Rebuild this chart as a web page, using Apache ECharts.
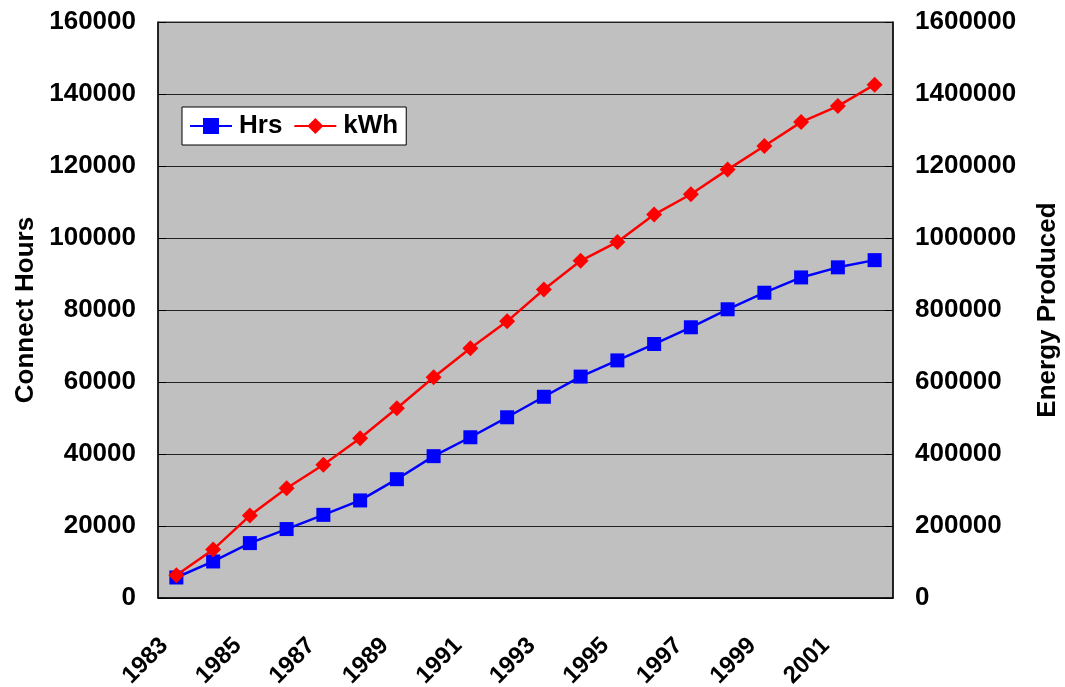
<!DOCTYPE html>
<html>
<head>
<meta charset="utf-8">
<script src="https://cdn.jsdelivr.net/npm/echarts@6/dist/echarts.min.js"></script>
<style>
  html, body { margin: 0; padding: 0; background: #ffffff; }
  #chart { width: 1065px; height: 687px; }
</style>
</head>
<body>
<div id="chart"></div>
<script>
// Years of operation
const years = ['1983', '1984', '1985', '1986', '1987', '1988', '1989', '1990', '1991', '1992',
               '1993', '1994', '1995', '1996', '1997', '1998', '1999', '2000', '2001', '2002'];

// Cumulative connect hours (left axis)
const hrs = [5700, 10150, 15250, 19150, 23100, 27100, 33000, 39400, 44650, 50200,
             55900, 61500, 66000, 70550, 75200, 80200, 84800, 89050, 91850, 93850];

// Cumulative energy produced, kWh (right axis)
const kwh = [63000, 134500, 229000, 305000, 370000, 443500, 527000, 613000, 693500, 768500,
             857000, 936500, 989000, 1065000, 1121500, 1190000, 1255500, 1322000, 1366500, 1426000];

const leftTicks = { min: 0, max: 160000, interval: 20000 };
const rightTicks = { min: 0, max: 1600000, interval: 200000 };

const FONT = '"Liberation Sans", Arial, sans-serif';
const txt = { color: '#000', fontFamily: FONT, fontWeight: 'bold', fontSize: 26 };
const plain = v => String(v);

const chart = echarts.init(document.getElementById('chart'), null, { renderer: 'canvas' });

chart.setOption({
  animation: false,
  backgroundColor: '#ffffff',
  grid: {
    left: 158, top: 22, width: 735, height: 576,
    outerBoundsMode: 'none', containLabel: false,
    show: true, backgroundColor: '#c0c0c0', borderColor: '#333', borderWidth: 1
  },
  legend: {
    left: 182, top: 107,
    backgroundColor: '#ffffff', borderColor: '#000', borderWidth: 1,
    padding: [6, 8, 6, 7],
    itemGap: 11, itemWidth: 42, itemHeight: 20,
    textStyle: Object.assign({}, txt, { padding: [0, 0, 0, 2] }),
    data: ['Hrs', 'kWh']
  },
  xAxis: {
    type: 'category',
    data: years,
    boundaryGap: true,
    axisLine: { lineStyle: { color: '#000', width: 1.5 } },
    axisTick: { inside: true, length: 9, interval: 0, lineStyle: { color: '#000' } },
    axisLabel: Object.assign({}, txt, {
      fontSize: 24, rotate: 45, interval: 1, margin: 56,
      verticalAlign: 'bottom', lineHeight: 34
    }),
    splitLine: { show: false }
  },
  yAxis: [
    {
      type: 'value', position: 'left',
      min: leftTicks.min, max: leftTicks.max, interval: leftTicks.interval,
      name: 'Connect Hours', nameLocation: 'middle', nameRotate: 90, nameGap: 108,
      nameTextStyle: Object.assign({}, txt, { fontSize: 26 }),
      axisLine: { show: true, lineStyle: { color: '#000', width: 1.5 } },
      axisTick: { show: true, inside: true, length: 8, lineStyle: { color: '#000' } },
      axisLabel: Object.assign({}, txt, { margin: 22, formatter: plain }),
      splitLine: { show: true, lineStyle: { color: '#222', width: 1.2 } }
    },
    {
      type: 'value', position: 'right',
      min: rightTicks.min, max: rightTicks.max, interval: rightTicks.interval,
      name: 'Energy Produced', nameLocation: 'middle', nameRotate: 90, nameGap: 142,
      nameTextStyle: Object.assign({}, txt, { fontSize: 26 }),
      axisLine: { show: true, lineStyle: { color: '#000', width: 1.5 } },
      axisTick: { show: true, inside: true, length: 8, lineStyle: { color: '#000' } },
      axisLabel: Object.assign({}, txt, { margin: 22, formatter: plain }),
      splitLine: { show: false }
    }
  ],
  series: [
    {
      name: 'Hrs', type: 'line', yAxisIndex: 0, data: hrs,
      symbol: 'rect', symbolSize: 14,
      lineStyle: { color: '#0000ff', width: 2.5 },
      itemStyle: { color: '#0000ff' },
      z: 2
    },
    {
      name: 'kWh', type: 'line', yAxisIndex: 1, data: kwh,
      symbol: 'diamond', symbolSize: 16,
      lineStyle: { color: '#ff0000', width: 2.5 },
      itemStyle: { color: '#ff0000' },
      z: 3
    }
  ]
});
</script>
</body>
</html>
